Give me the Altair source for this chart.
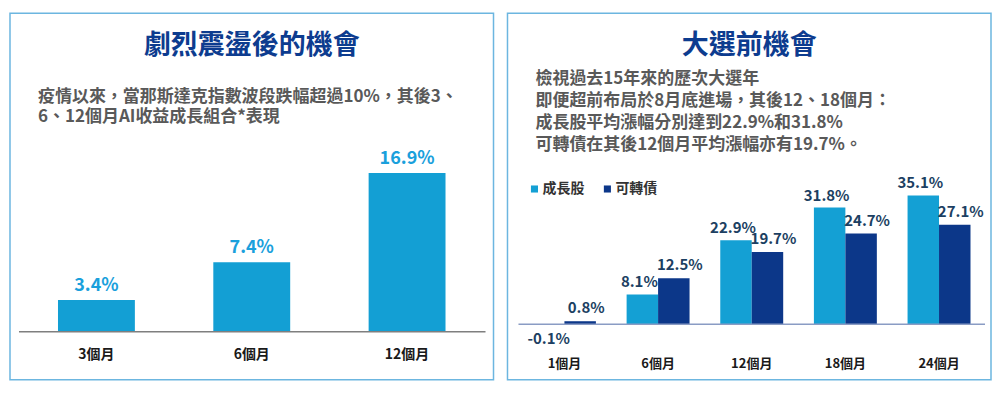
import altair as alt
import pandas as pd

FONT = "Noto Sans CJK TC"
TITLE_C = "#0d3c8f"
SUB_C = "#595959"
BORDER = "#6cb6e0"
LEFT_BAR = "#139fd4"
LEFT_LAB = "#1aa0dc"
LIGHT = "#14a0d4"
DARK = "#0c3789"
RLAB = "#1c3f62"

# ---------------- data ----------------
left_title = "劇烈震盪後的機會"
left_sub = ["疫情以來，當那斯達克指數波段跌幅超過10%，其後3、",
            "6、12個月AI收益成長組合*表現"]
left_periods = ["3個月", "6個月", "12個月"]
left_values = [3.4, 7.4, 16.9]

right_title = "大選前機會"
right_sub = ["檢視過去15年來的歷次大選年",
             "即便超前布局於8月底進場，其後12、18個月：",
             "成長股平均漲幅分別達到22.9%和31.8%",
             "可轉債在其後12個月平均漲幅亦有19.7%。"]
right_periods = ["1個月", "6個月", "12個月", "18個月", "24個月"]
series = ["成長股", "可轉債"]
growth = [-0.1, 8.1, 22.9, 31.8, 35.1]
convert = [0.8, 12.5, 19.7, 24.7, 27.1]

W, H = 484, 367
one = pd.DataFrame({"k": [0]})
LABEL_EXPR = "(datum.value < 0 ? '-' : '') + format(abs(datum.value), '.1f') + '%'"


def text_lines(lines, x, y0, step, size):
    out = []
    for i, line in enumerate(lines):
        out.append(alt.Chart(one).mark_text(
            font=FONT, fontSize=size, fontWeight="bold", color=SUB_C,
            align="left", baseline="middle").encode(
            x=alt.value(x), y=alt.value(y0 + i * step), text=alt.value(line)))
    return out


# ---------------- left panel ----------------
ldf = pd.DataFrame({"period": left_periods, "value": left_values})
lx = alt.X("period:N", sort=left_periods, axis=None,
           scale=alt.Scale(paddingInner=0.505, paddingOuter=0.309))
ly = alt.Y("value:Q", axis=None, stack=None,
           scale=alt.Scale(domain=[-5.10, 33.9], nice=False, zero=False))

l_bars = alt.Chart(ldf).mark_bar(color=LEFT_BAR).encode(x=lx, y=ly, y2=alt.datum(0))
l_labels = alt.Chart(ldf).transform_calculate(label=LABEL_EXPR).mark_text(
    font=FONT, fontSize=18, fontWeight="bold", color=LEFT_LAB,
    baseline="middle", dy=-14).encode(x=lx, y=ly, text="label:N")
l_axis = alt.Chart(ldf).mark_text(font=FONT, fontSize=14, fontWeight="bold",
                                  color="#1a1a1a", baseline="middle").encode(
    x=lx, y=alt.value(342), text="period:N")
l_base = alt.Chart(one).mark_rule(color="#7f7f7f", strokeWidth=1.5).encode(
    y=alt.datum(0), x=alt.value(9), x2=alt.value(476))
l_title = alt.Chart(one).mark_text(font=FONT, fontSize=27, fontWeight="bold",
                                   color=TITLE_C, align="center", baseline="middle").encode(
    x=alt.value(242), y=alt.value(33), text=alt.value(left_title))
l_sub = text_lines(left_sub, 28, 84, 20, 17)

left = alt.layer(l_bars, l_labels, l_axis, l_base, l_title, *l_sub).properties(width=W, height=H)

# ---------------- right panel ----------------
rdf = pd.DataFrame({
    "period": right_periods * 2,
    "series": [series[0]] * len(growth) + [series[1]] * len(convert),
    "value": growth + convert,
})
rx = alt.X("period:N", sort=right_periods, axis=None,
           scale=alt.Scale(paddingInner=0.328, paddingOuter=0.2455, align=0.554))
rxo = alt.XOffset("series:N", sort=series, scale=alt.Scale(paddingInner=0, paddingOuter=0))
ry = alt.Y("value:Q", axis=None, stack=None,
           scale=alt.Scale(domain=[-15.18, 84.82], nice=False, zero=False))
rcolor = alt.Color("series:N", sort=series,
                   scale=alt.Scale(domain=series, range=[LIGHT, DARK]),
                   legend=alt.Legend(orient="none", legendX=518, legendY=169,
                                     direction="horizontal", title=None,
                                     symbolType="square", symbolSize=50,
                                     symbolStrokeWidth=0,
                                     labelFont=FONT, labelFontSize=14,
                                     labelFontWeight="bold", labelColor="#333333",
                                     columnPadding=16, labelOffset=1))

r_bars = alt.Chart(rdf).mark_bar().encode(x=rx, xOffset=rxo, y=ry, y2=alt.datum(0), color=rcolor)

lab = alt.Chart(rdf).transform_calculate(label=LABEL_EXPR)
txt = dict(font=FONT, fontSize=15, fontWeight="bold", color=RLAB, baseline="middle")
r_lab_light = lab.transform_filter(
    (alt.datum.series == series[0]) & (alt.datum.value >= 0)
).mark_text(dx=-3, dy=-12, **txt).encode(x=rx, xOffset=rxo, y=ry, text="label:N")
r_lab_dark = lab.transform_filter(
    (alt.datum.series == series[1]) & (alt.datum.value >= 0)
).mark_text(dx=6, dy=-13, **txt).encode(x=rx, xOffset=rxo, y=ry, text="label:N")
r_lab_neg = lab.transform_filter(alt.datum.value < 0).mark_text(dy=14, **txt).encode(
    x=rx, xOffset=rxo, y=ry, text="label:N")

r_axis = alt.Chart(pd.DataFrame({"period": right_periods})).mark_text(
    font=FONT, fontSize=13, fontWeight="bold", color="#1a1a1a", baseline="middle").encode(
    x=rx, y=alt.value(351), text="period:N")
r_base = alt.Chart(one).mark_rule(color="#8a9cc4", strokeWidth=1.5).encode(
    y=alt.datum(0), x=alt.value(11), x2=alt.value(478))
r_title = alt.Chart(one).mark_text(font=FONT, fontSize=27, fontWeight="bold",
                                   color=TITLE_C, align="center", baseline="middle").encode(
    x=alt.value(242), y=alt.value(33), text=alt.value(right_title))
r_sub = text_lines(right_sub, 28, 66, 22, 17)

right = alt.layer(r_bars, r_lab_light, r_lab_dark, r_lab_neg, r_axis, r_base,
                  r_title, *r_sub).properties(width=W, height=H)

chart = alt.hconcat(left, right, spacing=12).properties(
    padding={"left": 1, "top": 4, "right": 0, "bottom": 0}
).configure_view(stroke=BORDER, strokeWidth=1.5)

chart.save("out.html", embed_options={"renderer": "svg", "actions": False})
